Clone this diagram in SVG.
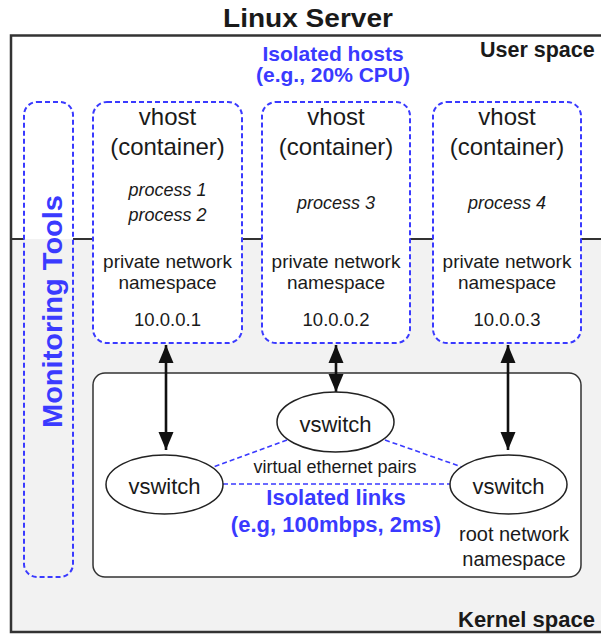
<svg xmlns="http://www.w3.org/2000/svg" width="601" height="635" viewBox="0 0 601 635">
  <style>
    text { font-family: "Liberation Sans", Arial, sans-serif; fill: #1a1a1a; }
    .title { font-size: 25px; font-weight: bold; }
    .space { font-size: 21.5px; font-weight: bold; }
    .blue { fill: #3a3aff; font-weight: bold; }
    .big { font-size: 24px; }
    .proc { font-size: 18px; font-style: italic; }
    .body { font-size: 19px; }
    .ip { font-size: 18.5px; }
    .sw { font-size: 22px; }
    .host { fill: #ffffff; stroke: #3a3aff; stroke-width: 2; stroke-dasharray: 5 3; }
    .veth { stroke: #3a3aff; stroke-width: 1.6; stroke-dasharray: 5 3; fill: none; }
    .link { stroke: #111; stroke-width: 2.6; fill: none; marker-start: url(#head); marker-end: url(#head); }
    .divider { stroke: #333; stroke-width: 2; }
  </style>
  <defs>
    <marker id="head" markerUnits="userSpaceOnUse" markerWidth="18" markerHeight="16" refX="18" refY="8" orient="auto-start-reverse">
      <path d="M0,0.5 L18,8 L0,15.5 z" fill="#111"/>
    </marker>
  </defs>

  <!-- server frame: white user space above, grey kernel space below -->
  <rect x="0" y="0" width="601" height="635" fill="#ffffff"/>
  <rect x="11" y="239" width="600" height="393" fill="#f2f2f2"/>
  <rect x="11" y="35.5" width="620" height="596.5" fill="none" stroke="#333" stroke-width="2.5"/>
  <g id="divider">
    <line class="divider" x1="11" y1="239" x2="24" y2="239"/>
    <line class="divider" x1="73" y1="239" x2="93" y2="239"/>
    <line class="divider" x1="242" y1="239" x2="262" y2="239"/>
    <line class="divider" x1="410" y1="239" x2="433" y2="239"/>
    <line class="divider" x1="581" y1="239" x2="601" y2="239"/>
  </g>

  <text class="title" x="308" y="27" text-anchor="middle" textLength="170" lengthAdjust="spacingAndGlyphs">Linux Server</text>
  <text class="space" x="480" y="57">User space</text>
  <text class="space" x="458" y="627" style="font-size:22px">Kernel space</text>
  <text class="blue" x="333" y="61" text-anchor="middle" style="font-size:21px">Isolated hosts</text>
  <text class="blue" x="333" y="82" text-anchor="middle" style="font-size:21px">(e.g., 20% CPU)</text>

  <!-- monitoring tools column -->
  <g id="monitoring">
    <rect x="24" y="102" width="49" height="475" rx="13" fill="none" stroke="#3a3aff" stroke-width="2" stroke-dasharray="5 3"/>
    <text class="blue" transform="translate(62,311.5) rotate(-90)" text-anchor="middle" style="font-size:27px" textLength="233" lengthAdjust="spacingAndGlyphs">Monitoring Tools</text>
  </g>

  <!-- root network namespace -->
  <g id="root-ns">
    <rect x="93" y="373" width="488" height="204" rx="12" fill="#ffffff" stroke="#333" stroke-width="1.5"/>
    <text class="body" x="514" y="541" text-anchor="middle" style="font-size:20px">root network</text>
    <text class="body" x="514" y="566" text-anchor="middle" style="font-size:20px">namespace</text>
  </g>

  <!-- virtual hosts -->
  <g id="vhost1">
    <rect class="host" x="93" y="102" width="149" height="241" rx="14"/>
    <text class="big" x="167.5" y="125" text-anchor="middle">vhost</text>
    <text class="big" x="167.5" y="155" text-anchor="middle">(container)</text>
    <text class="proc" x="167.5" y="196" text-anchor="middle">process 1</text>
    <text class="proc" x="167.5" y="221" text-anchor="middle">process 2</text>
    <text class="body" x="167.5" y="268" text-anchor="middle">private network</text>
    <text class="body" x="167.5" y="289" text-anchor="middle">namespace</text>
    <text class="ip" x="167.5" y="326" text-anchor="middle">10.0.0.1</text>
  </g>
  <g id="vhost2">
    <rect class="host" x="262" y="102" width="148" height="241" rx="14"/>
    <text class="big" x="336" y="125" text-anchor="middle">vhost</text>
    <text class="big" x="336" y="155" text-anchor="middle">(container)</text>
    <text class="proc" x="336" y="209" text-anchor="middle">process 3</text>
    <text class="body" x="336" y="268" text-anchor="middle">private network</text>
    <text class="body" x="336" y="289" text-anchor="middle">namespace</text>
    <text class="ip" x="336" y="326" text-anchor="middle">10.0.0.2</text>
  </g>
  <g id="vhost3">
    <rect class="host" x="433" y="102" width="148" height="241" rx="14"/>
    <text class="big" x="507" y="125" text-anchor="middle">vhost</text>
    <text class="big" x="507" y="155" text-anchor="middle">(container)</text>
    <text class="proc" x="507" y="209" text-anchor="middle">process 4</text>
    <text class="body" x="507" y="268" text-anchor="middle">private network</text>
    <text class="body" x="507" y="289" text-anchor="middle">namespace</text>
    <text class="ip" x="507" y="326" text-anchor="middle">10.0.0.3</text>
  </g>

  <!-- connectors -->
  <g id="connectors">
    <line class="link" x1="166" y1="345" x2="166" y2="450"/>
    <line class="link" x1="336" y1="345" x2="336" y2="392"/>
    <line class="link" x1="508" y1="345" x2="508" y2="450"/>
    <line class="veth" x1="287" y1="440" x2="213" y2="467"/>
    <line class="veth" x1="385" y1="440" x2="462" y2="467"/>
    <line class="veth" x1="223" y1="484" x2="450" y2="484"/>
  </g>
  <text x="335" y="473" text-anchor="middle" style="font-size:18px">virtual ethernet pairs</text>
  <text class="blue" x="336" y="505" text-anchor="middle" style="font-size:22px">Isolated links</text>
  <text class="blue" x="336" y="532" text-anchor="middle" style="font-size:22px">(e.g, 100mbps, 2ms)</text>

  <!-- switches -->
  <g id="vswitch-top">
    <ellipse cx="335.5" cy="422" rx="58.5" ry="30" fill="#ffffff" stroke="#222" stroke-width="1.5"/>
    <text class="sw" x="335.5" y="432" text-anchor="middle">vswitch</text>
  </g>
  <g id="vswitch-left">
    <ellipse cx="164.5" cy="484.5" rx="58.5" ry="29.5" fill="#ffffff" stroke="#222" stroke-width="1.5"/>
    <text class="sw" x="164.5" y="494" text-anchor="middle">vswitch</text>
  </g>
  <g id="vswitch-right">
    <ellipse cx="508.5" cy="484.5" rx="58.5" ry="29.5" fill="#ffffff" stroke="#222" stroke-width="1.5"/>
    <text class="sw" x="508.5" y="494" text-anchor="middle">vswitch</text>
  </g>
</svg>
